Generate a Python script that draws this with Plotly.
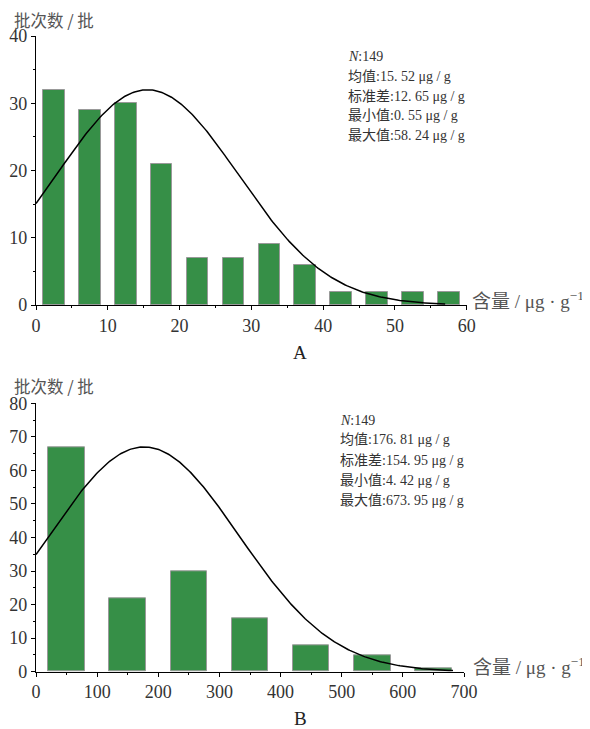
import numpy as np
import plotly.graph_objects as go

# the page body adds an 8 px margin, so the figure is drawn 8 px smaller and all
# reference pixel positions are shifted by OFF
OFF = 8
W, H = 590 - OFF, 729 - OFF

# ---- Data (panel A) ----
centers_a = [2.5, 7.5, 12.5, 17.5, 22.5, 27.5, 32.5, 37.5, 42.5, 47.5, 52.5, 57.5]
counts_a = [32, 29, 30, 21, 7, 7, 9, 6, 2, 2, 2, 2]
mean_a, sd_a, peak_a, curve_end_a = 15.52, 12.65, 32.0, 57.0
stats_a = ["<i>N</i>:149", "均值:15. 52 μg / g", "标准差:12. 65 μg / g",
           "最小值:0. 55 μg / g", "最大值:58. 24 μg / g"]

# ---- Data (panel B) ----
centers_b = [50, 150, 250, 350, 450, 550, 650]
counts_b = [67, 22, 30, 16, 8, 5, 1]
mean_b, sd_b, peak_b, curve_end_b = 176.81, 154.95, 67.0, 682.0
stats_b = ["<i>N</i>:149", "均值:176. 81 μg / g", "标准差:154. 95 μg / g",
           "最小值:4. 42 μg / g", "最大值:673. 95 μg / g"]

ytitle = "批次数 / 批"
xtitle = "含量 / μg · g<sup>−1</sup>"

BAR = "#368f47"
SERIF = "'Liberation Serif', 'Times New Roman', serif"
CJK = "'Noto Sans CJK SC', sans-serif"
MIX = "'Liberation Serif', 'Noto Sans CJK SC', serif"


def px(x):
    return (x - OFF) / W


def py(y):
    return 1 - (y - OFF) / H


fig = go.Figure()

# normal fit curves from the stated mean / sd
xa = np.linspace(0, curve_end_a, 300)
ya = peak_a * np.exp(-0.5 * ((xa - mean_a) / sd_a) ** 2)
xb = np.linspace(0, curve_end_b, 300)
yb = peak_b * np.exp(-0.5 * ((xb - mean_b) / sd_b) ** 2)

fig.add_trace(go.Bar(x=centers_a, y=counts_a, width=3, marker=dict(color=BAR, line=dict(color="#999999", width=1)),
                     xaxis="x", yaxis="y", showlegend=False))
fig.add_trace(go.Scatter(x=xa, y=ya, mode="lines", line=dict(color="black", width=1.5),
                         xaxis="x", yaxis="y", showlegend=False))
fig.add_trace(go.Bar(x=centers_b, y=counts_b, width=60, marker=dict(color=BAR, line=dict(color="#999999", width=1)),
                     xaxis="x2", yaxis="y2", showlegend=False))
fig.add_trace(go.Scatter(x=xb, y=yb, mode="lines", line=dict(color="black", width=1.5),
                         xaxis="x2", yaxis="y2", showlegend=False))


def ax(dom, rng, anchor, tickvals, minor_dtick):
    return dict(domain=dom, range=rng, anchor=anchor, tickvals=tickvals, automargin=False,
                showline=True, linecolor="black", linewidth=1.2, showgrid=False, zeroline=False,
                ticks="outside", ticklen=4, tickwidth=1, tickcolor="black",
                tickfont=dict(family=SERIF, size=18, color="#333"),
                minor=dict(ticks="outside", ticklen=2, tickcolor="black", dtick=minor_dtick))


fig.update_layout(
    template="none",
    width=W, height=H, margin=dict(l=0, r=0, t=0, b=0, autoexpand=False),
    paper_bgcolor="white", plot_bgcolor="white", bargap=0,
    xaxis=ax([px(36), px(466.7)], [0, 60], "y", [0, 10, 20, 30, 40, 50, 60], 5),
    yaxis=ax([py(305), py(36)], [0, 40], "x", [0, 10, 20, 30, 40], 5),
    xaxis2=ax([px(36), px(464)], [0, 700], "y2", [0, 100, 200, 300, 400, 500, 600, 700], 50),
    yaxis2=ax([py(671.7), py(403.3)], [0, 80], "x2", [0, 10, 20, 30, 40, 50, 60, 70, 80], 5),
)

ann = []
# y-axis titles
for yy in (20, 385.5):
    ann.append(dict(x=px(13), y=py(yy), xref="paper", yref="paper", text=ytitle, showarrow=False,
                    borderpad=0, xanchor="left", yanchor="middle",
                    font=dict(family=CJK, size=16.5, color="#555")))
# x-axis titles
for xx, yy in ((471, 300), (472, 666)):
    ann.append(dict(x=px(xx), y=py(yy), xref="paper", yref="paper", text=xtitle, showarrow=False,
                    borderpad=0, xanchor="left", yanchor="middle",
                    font=dict(family=MIX, size=19, color="#555")))
# panel labels
for lab, yy in (("A", 352), ("B", 718)):
    ann.append(dict(x=px(300), y=py(yy), xref="paper", yref="paper", text=lab, showarrow=False,
                    xanchor="center", yanchor="middle", font=dict(family=SERIF, size=19, color="#222")))
# stats blocks
for lines, x0, y0, step in ((stats_a, 347, 57, 19.6), (stats_b, 339, 420, 20.0)):
    for i, t in enumerate(lines):
        ann.append(dict(x=px(x0), y=py(y0 + i * step), xref="paper", yref="paper", text=t, showarrow=False,
                        borderpad=0, xanchor="left", yanchor="middle",
                        font=dict(family=MIX, size=14, color="#333")))

fig.update_layout(annotations=ann)
fig.write_html("out.html")
